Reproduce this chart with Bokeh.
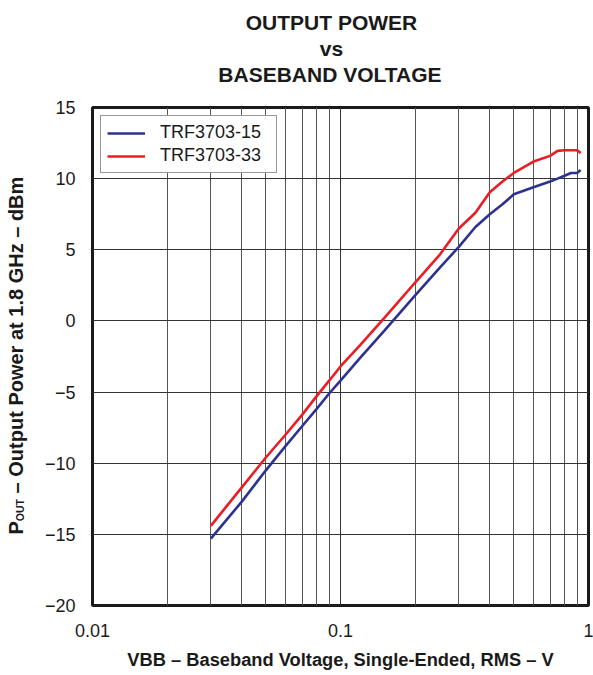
import math
from bokeh.plotting import figure
from bokeh.models import (Range1d, FixedTicker, Legend, LegendItem, Label, Title)
from bokeh.embed import file_html
from bokeh.resources import INLINE

# ---- data ----
vbb = [0.03, 0.04, 0.05, 0.06, 0.07, 0.08, 0.09, 0.10, 0.12, 0.15, 0.20,
       0.25, 0.30, 0.35, 0.40, 0.45, 0.50, 0.60, 0.70, 0.75, 0.80, 0.85,
       0.90, 0.93]
pout_15 = [-15.3, -12.7, -10.5, -8.8, -7.4, -6.2, -5.1, -4.2, -2.6, -0.7, 1.8,
           3.7, 5.2, 6.6, 7.5, 8.2, 8.9, 9.4, 9.8, 10.0, 10.2, 10.4,
           10.4, 10.6]
pout_33 = [-14.4, -11.7, -9.6, -8.0, -6.6, -5.3, -4.2, -3.2, -1.7, 0.2, 2.7,
           4.6, 6.5, 7.6, 9.05, 9.8, 10.4, 11.2, 11.6, 11.95, 12.0, 12.0,
           12.0, 11.8]
series_names = ["TRF3703-15", "TRF3703-33"]
x_ticks = [0.01, 0.1, 1]
x_tick_labels = ["0.01", "0.1", "1"]
y_ticks = [-20, -15, -10, -5, 0, 5, 10, 15]
y_tick_labels = ["\u221220", "\u221215", "\u221210", "\u22125", "0", "5", "10", "15"]
title_lines = ["OUTPUT POWER", "vs", "BASEBAND VOLTAGE"]
x_label = "VBB \u2013 Baseband Voltage, Single-Ended, RMS \u2013 V"
y_label_main = "P" + "\u00a0" * 4 + " \u2013 Output Power at 1.8 GHz \u2013 dBm"
y_label_sub = "OUT"

FONT = "Liberation Sans"
BLUE = "#2e3192"
RED = "#ed1c24"
INK = "#1a1a1a"

p = figure(x_axis_type="log", width=593, height=672,
           frame_width=496, frame_height=498,
           x_range=Range1d(0.01, 1), y_range=Range1d(-20, 15),
           output_backend="svg", toolbar_location=None,
           min_border_left=92, min_border_right=5,
           min_border_top=107, min_border_bottom=65)
p.title.visible = False
p.background_fill_color = "white"
p.border_fill_color = "white"
p.outline_line_color = INK
p.outline_line_width = 3

minor = [m * 10.0 ** e for e in (-2, -1) for m in range(2, 10)]
p.xaxis.ticker = FixedTicker(ticks=x_ticks, minor_ticks=minor)
p.yaxis.ticker = FixedTicker(ticks=y_ticks)
p.xaxis.major_label_overrides = dict(zip(x_ticks, x_tick_labels))
p.yaxis.major_label_overrides = dict(zip(y_ticks, y_tick_labels))

for ax in (p.xaxis, p.yaxis):
    ax.axis_line_color = None
    ax.major_tick_line_color = None
    ax.minor_tick_line_color = None
    ax.major_label_text_font = FONT
    ax.major_label_text_font_size = "18px"
    ax.major_label_text_color = INK
p.xaxis.major_label_standoff = 12
p.yaxis.major_label_standoff = 11
p.xaxis.axis_label = x_label
p.xaxis.axis_label_text_font = FONT
p.xaxis.axis_label_text_font_size = "18.3px"
p.xaxis.axis_label_text_font_style = "bold"
p.xaxis.axis_label_text_color = INK
p.xaxis.axis_label_standoff = 9

p.xgrid.grid_line_color = "#333333"
p.xgrid.grid_line_width = 1
p.xgrid.minor_grid_line_color = "#555555"
p.xgrid.minor_grid_line_width = 1
p.ygrid.grid_line_color = "#333333"
p.ygrid.grid_line_width = 1

r1 = p.line(vbb, pout_15, line_color=BLUE, line_width=2.6)
r2 = p.line(vbb, pout_33, line_color=RED, line_width=2.6)

legend = Legend(items=[LegendItem(label=series_names[0], renderers=[r1]),
                       LegendItem(label=series_names[1], renderers=[r2])],
                location="top_left", margin=8, padding=6, spacing=2,
                glyph_width=38, glyph_height=20, label_height=20,
                label_standoff=15, label_width=110,
                border_line_color="#333333", border_line_width=1.5,
                label_text_font=FONT, label_text_font_size="18px",
                label_text_color=INK,
                background_fill_color="white", background_fill_alpha=1)
p.add_layout(legend)

# spacer, then title lines stacked upward from the frame
p.add_layout(Title(text=" ", text_font_size="10px", standoff=8), "above")
TFS = 21
title_em = {"OUTPUT POWER": 8.167, "vs": 1.112, "BASEBAND VOLTAGE": 10.778}
for txt in reversed(title_lines):
    p.add_layout(Title(text=txt, align="left",
                       offset=239 - title_em[txt] * TFS / 2, standoff=1,
                       text_font=FONT, text_font_size=f"{TFS}px",
                       text_font_style="bold", text_color=INK), "above")

# rotated y-axis label with subscript, in the left side panel
y0 = 71
big = 20
small = 10.5
p.add_layout(Label(x=-10, y=y0 + 0.667 * big, x_units="screen", y_units="screen",
                   text=y_label_sub, angle=math.pi / 2,
                   text_align="left", text_baseline="middle",
                   text_font=FONT, text_font_size=f"{small}px",
                   text_font_style="bold", text_color=INK), "left")
p.add_layout(Label(x=8, y=y0, x_units="screen", y_units="screen",
                   text=y_label_main, angle=math.pi / 2,
                   text_align="left", text_baseline="middle",
                   text_font=FONT, text_font_size=f"{big}px",
                   text_font_style="bold", text_color=INK), "left")

open("out.html", "w").write(file_html(p, INLINE))
